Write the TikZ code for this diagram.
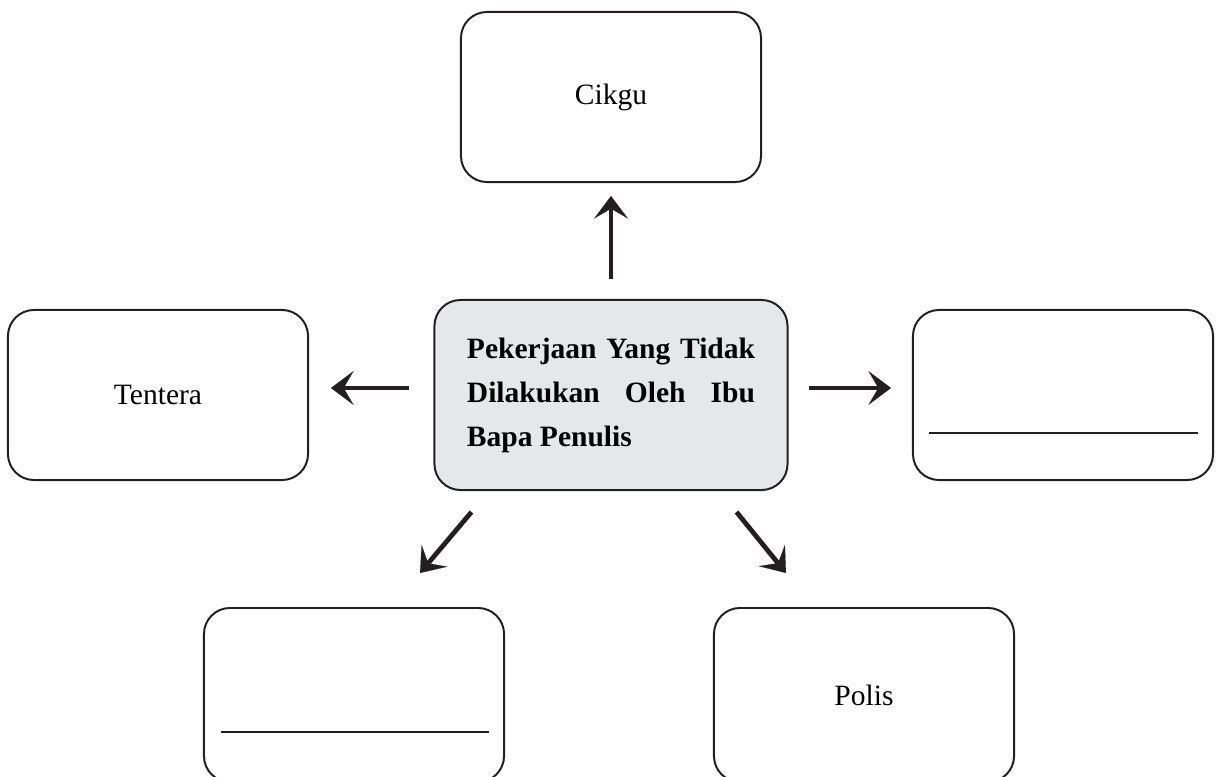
\documentclass[tikz,border=0pt]{standalone}
\usepackage{fontspec}
\setmainfont{Liberation Serif}
\usetikzlibrary{arrows.meta, positioning}
\definecolor{ink}{HTML}{231F20}
\definecolor{shade}{HTML}{E6E7E8}
\tikzstyle{box}=[draw=ink,line width=1.4pt,fill=white,rectangle,rounded corners=0.65cm,minimum width=7.5cm,minimum height=4.25cm]
\tikzstyle{every node}=[font=\fontsize{21}{31.3}\selectfont]
\tikzstyle{arrow}=[ink,line width=3.4pt,-{Stealth[length=16pt,width=24pt,inset=7pt,line width=0.1pt]}]
\tikzstyle{blank}=[ink,line width=0.8pt]

\begin{document}
\begin{tikzpicture}[x=0.025cm,y=-0.025cm]
    \useasboundingbox (0,0) rectangle (1219,777);

    \node[box, fill=shade, minimum width=8.825cm, minimum height=4.75cm,
          text width=7.2cm, align=justify,
          font=\bfseries\fontsize{21}{31.3}\selectfont] (centre) at (611,395)
          {Pekerjaan Yang Tidak\linebreak Dilakukan Oleh Ibu\linebreak Bapa Penulis};

    \node[box] (cikgu) at (611,97) {Cikgu};
    \node[box] (tentera) at (158,395) {Tentera};
    \node[box] (kanan) at (1063,395) {};
    \node[box, minimum height=4.35cm] (kiri) at (354,695) {};
    \node[box, minimum height=4.35cm] (polis) at (864,695) {Polis};

    % garisan tempat jawapan
    \draw[blank] ([xshift=0.425cm,yshift=1.2cm]kanan.south west) -- ([xshift=-0.4cm,yshift=1.2cm]kanan.south east);
    \draw[blank] ([xshift=0.45cm,yshift=1.275cm]kiri.south west) -- ([xshift=-0.4cm,yshift=1.275cm]kiri.south east);

    \draw[arrow] ([yshift=0.5cm]centre.north) -- ([yshift=-0.325cm]cikgu.south);
    \draw[arrow] ([xshift=-0.6cm,yshift=0.175cm]centre.west) -- ([xshift=0.55cm,yshift=0.175cm]tentera.east);
    \draw[arrow] ([xshift=0.5cm,yshift=0.175cm]centre.east) -- ([xshift=-0.525cm,yshift=0.175cm]kanan.west);
    \draw[arrow] ([xshift=0.95cm,yshift=-0.525cm]centre.south west) -- ([xshift=-2.125cm,yshift=0.85cm]kiri.north east);
    \draw[arrow] ([xshift=-1.3cm,yshift=-0.525cm]centre.south east) -- ([xshift=1.825cm,yshift=0.85cm]polis.north west);
\end{tikzpicture}
\end{document}
